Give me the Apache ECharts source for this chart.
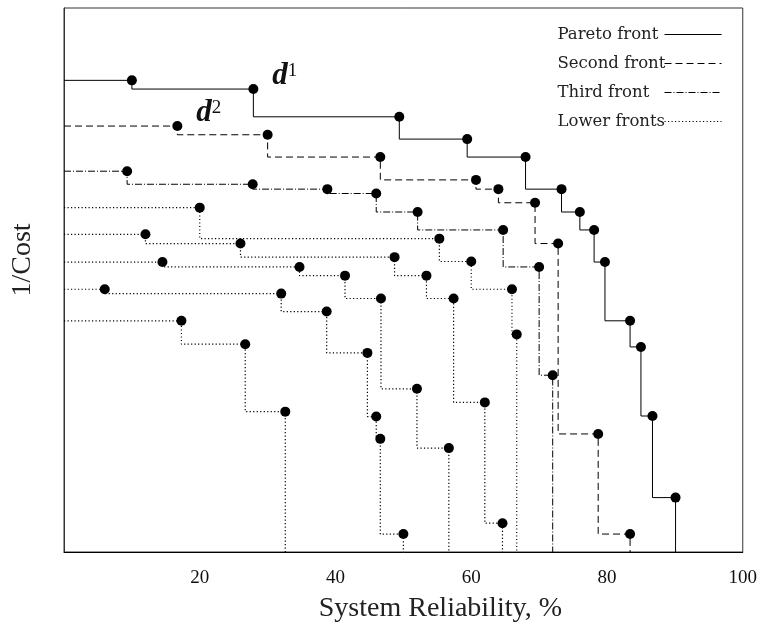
<!DOCTYPE html>
<html>
<head>
<meta charset="utf-8">
<title>Pareto fronts</title>
<script src="https://cdn.jsdelivr.net/npm/echarts@6/dist/echarts.min.js"></script>
<style>
    html, body { margin: 0; padding: 0; background: #fff; }
    #chart { width: 760px; height: 628px; }
</style>
</head>
<body>
<div id="chart"></div>
<script>
// x: system reliability (%), y: 1/cost (no scale shown, 0..100 arbitrary)
const paretoX = [10.0, 27.9, 49.4, 59.4, 68.0, 73.3, 76.0, 78.1, 79.7, 83.4, 85.0, 86.7, 90.1];
const paretoY = [86.7, 85.1, 80.0, 75.9, 72.6, 66.7, 62.5, 59.2, 53.3, 42.5, 37.7, 25.0, 10.0];

const secondX = [16.7, 30.0, 46.6, 60.7, 64.0, 69.4, 72.8, 78.7, 83.4];
const secondY = [78.3, 76.7, 72.6, 68.4, 66.7, 64.2, 56.7, 21.7, 3.3];

const thirdX = [9.3, 27.8, 38.8, 46.0, 52.1, 64.7, 70.0, 72.0];
const thirdY = [70.0, 67.6, 66.7, 65.9, 62.5, 59.2, 52.4, 32.5];

// lower fronts, all drawn dotted
const lower1X = [20.0, 55.3, 60.0, 66.0, 66.7];
const lower1Y = [63.3, 57.6, 53.4, 48.3, 40.0];
const lower2X = [12.0, 26.0, 48.7, 53.4, 57.4, 62.0, 64.6];
const lower2Y = [58.4, 56.7, 54.2, 50.8, 46.6, 27.5, 5.3];
const lower3X = [14.5, 34.7, 41.4, 46.7, 52.0, 56.7];
const lower3Y = [53.3, 52.4, 50.8, 46.6, 30.0, 19.1];
const lower4X = [6.0, 32.0, 38.7, 44.7, 46.0, 46.6, 50.0];
const lower4Y = [48.3, 47.5, 44.2, 36.6, 24.9, 20.8, 3.3];
const lower5X = [17.3, 26.7, 32.6];
const lower5Y = [42.5, 38.2, 25.8];

const xTickLabels = [20, 40, 60, 80, 100];

const SERIF = "'Liberation Serif', 'DejaVu Serif', serif";
const INK = '#000';

const fronts = [
    { name: 'Pareto front', xs: paretoX, ys: paretoY, dash: 'solid', w: 1 },
    { name: 'Second front', xs: secondX, ys: secondY, dash: [7, 4], w: 1 },
    { name: 'Third front', xs: thirdX, ys: thirdY, dash: [7, 2, 1, 2], w: 1 },
    { name: 'Lower fronts', xs: lower1X, ys: lower1Y, dash: [1.2, 2.3], w: 1.2 },
    { name: 'Lower fronts', xs: lower2X, ys: lower2Y, dash: [1.2, 2.3], w: 1.2 },
    { name: 'Lower fronts', xs: lower3X, ys: lower3Y, dash: [1.2, 2.3], w: 1.2 },
    { name: 'Lower fronts', xs: lower4X, ys: lower4Y, dash: [1.2, 2.3], w: 1.2 },
    { name: 'Lower fronts', xs: lower5X, ys: lower5Y, dash: [1.2, 2.3], w: 1.2 }
];

// staircase: from the left edge across to the first point, down at every point, last one down to the axis
function stairs(xs, ys) {
    const pts = [[0, ys[0]]];
    xs.forEach((x, i) => pts.push([x, ys[i]]));
    pts.push([xs[xs.length - 1], 0]);
    return pts;
}

// label like d^1 / d^2 next to a point
function dLabel(sup) {
    return {
        show: true,
        position: 'right',
        distance: 0,
        offset: [14, -13],
        formatter: '{d|d}{s|' + sup + '}',
        rich: {
            d: { fontFamily: SERIF, fontStyle: 'italic', fontWeight: 'bold', fontSize: 31, lineHeight: 30, color: '#111' },
            s: { fontFamily: SERIF, fontSize: 19, lineHeight: 18, verticalAlign: 'top', color: '#111' }
        }
    };
}

const points = [];
fronts.forEach(f => {
    f.xs.forEach((x, i) => {
        const item = { value: [x, f.ys[i]] };
        if (f.xs === paretoX && i === 1) item.label = dLabel('1');
        if (f.xs === secondX && i === 0) item.label = dLabel('2');
        points.push(item);
    });
});

const series = fronts.map(f => ({
    name: f.name,
    type: 'line',
    step: 'start',
    symbol: 'none',
    showSymbol: false,
    silent: true,
    lineStyle: { color: INK, width: f.w, type: f.dash, opacity: 1 },
    itemStyle: { color: INK },
    data: stairs(f.xs, f.ys),
    z: 2
}));

series.push({
    name: 'points',
    type: 'scatter',
    symbol: 'circle',
    symbolSize: 10,
    itemStyle: { color: '#000', opacity: 1 },
    silent: true,
    data: points,
    z: 5
});

const chart = echarts.init(document.getElementById('chart'), null, { renderer: 'canvas' });

chart.setOption({
    animation: false,
    backgroundColor: '#fff',
    grid: {
        left: 64, right: 16, top: 8, bottom: 76,
        show: true, borderColor: '#333', borderWidth: 1
    },
    legend: {
        data: ['Pareto front', 'Second front', 'Third front', 'Lower fronts'],
        orient: 'vertical',
        right: 38,
        top: 26,
        padding: 0,
        align: 'right',
        itemWidth: 57,
        itemHeight: 14,
        itemGap: 12,
        selectedMode: false,
        itemStyle: { opacity: 0 },
        lineStyle: { width: 1 },
        formatter: name => '{t|' + name + '}',
        textStyle: {
            rich: {
                t: { width: 102, align: 'left', fontFamily: "'DejaVu Serif', serif", fontSize: 16.5, lineHeight: 16, color: '#222' }
            }
        }
    },
    xAxis: {
        type: 'value',
        min: 0,
        max: 100,
        interval: 20,
        axisLine: { show: true, lineStyle: { color: '#000', width: 1 } },
        axisTick: { show: false },
        splitLine: { show: false },
        axisLabel: {
            showMinLabel: false,
            margin: 17,
            fontFamily: SERIF,
            fontSize: 19,
            color: '#111',
            formatter: v => (xTickLabels.includes(v) ? String(v) : '')
        },
        name: 'System Reliability, %',
        nameLocation: 'middle',
        nameGap: 43,
        nameTextStyle: { fontFamily: SERIF, fontSize: 28, color: '#222', padding: [0, 0, 0, 74] }
    },
    yAxis: {
        type: 'value',
        min: 0,
        max: 100,
        axisLine: { show: true, lineStyle: { color: '#333', width: 1 } },
        axisTick: { show: false },
        axisLabel: { show: false },
        splitLine: { show: false },
        name: '1/Cost',
        nameLocation: 'middle',
        nameRotate: 90,
        nameGap: 27,
        nameTextStyle: { fontFamily: SERIF, fontSize: 28, color: '#222', padding: [0, 0, 0, 40] }
    },
    series: series
});
</script>
</body>
</html>
